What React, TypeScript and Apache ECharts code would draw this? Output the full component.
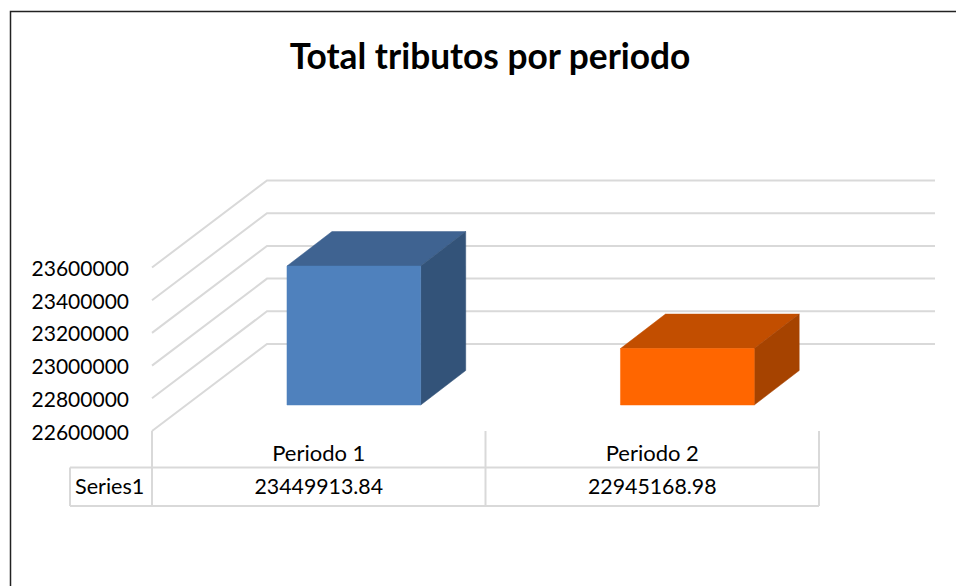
import React, { useEffect, useRef } from "react";
import * as echarts from "echarts";

const titleText = "Total tributos por periodo";
const seriesName = "Series1";
const categories = ["Periodo 1", "Periodo 2"];
const seriesValues = [23449913.84, 22945168.98];
const valueLabels = ["23449913.84", "22945168.98"];
const axisMin = 22600000;
const axisMax = 23600000;
const axisStep = 200000;
const tickValues = [22600000, 22800000, 23000000, 23200000, 23400000, 23600000];
const frontColors = ["#4f81bd", "#ff6600"];
const topColors = ["#3f6391", "#c24e00"];
const sideColors = ["#335379", "#a64300"];

const FONT = "Lato, Carlito, sans-serif";
const GRID_COLOR = "#d9d9d9";
const GRID_WIDTH = 2;
const WALL_DX = 115;
const WALL_DY = -87;
const WALL_END = 935;
const BAR_SHIFT_X = 35.1;
const BAR_SHIFT_Y = -26;
const BAR_DX = 45;
const BAR_DY = -34.5;
const BAR_RATIO = 0.401;
const TABLE_LEFT = 70;
const TABLE_MID = 467.5;
const TABLE_BOTTOM = 506;
const TEXT_MID = 486;

export default function App() {
  const ref = useRef<HTMLDivElement>(null);
  useEffect(() => {
    const chart = echarts.init(ref.current!, null, { renderer: "svg" });
    const line = (x1: number, y1: number, x2: number, y2: number) => ({
      type: "line",
      shape: { x1, y1, x2, y2 },
      style: { stroke: GRID_COLOR, lineWidth: GRID_WIDTH },
    });
    chart.setOption({
      animation: false,
      backgroundColor: "#ffffff",
      title: {
        text: titleText,
        left: 485,
        top: 33,
        textAlign: "center",
        textStyle: { fontFamily: FONT, fontSize: 35.3, fontWeight: "bold", color: "#000000" },
      },
      grid: { left: 152, top: 267.5, width: 667, height: 163.5 },
      xAxis: {
        type: "category",
        data: categories,
        axisLine: { show: false },
        axisTick: { show: false },
        axisLabel: { fontFamily: FONT, fontSize: 22, color: "#000000", margin: 10 },
      },
      yAxis: {
        type: "value",
        min: axisMin,
        max: axisMax,
        interval: axisStep,
        axisLine: { show: false },
        axisTick: { show: false },
        splitLine: { show: false },
        axisLabel: {
          fontFamily: FONT,
          fontSize: 21,
          color: "#000000",
          margin: 23,
          formatter: (v: number) => String(v),
        },
      },
      graphic: [
        {
          type: "polyline",
          shape: { points: [[10.5, 586], [10.5, 11.5], [956, 11.5]] },
          style: { stroke: "#222222", lineWidth: 1.5, fill: "none" },
        },
      ],
      series: [
        {
          type: "custom",
          silent: true,
          data: tickValues.map((v) => [0, v]),
          encode: { x: 0, y: 1 },
          renderItem: (params: any, api: any) => {
            const y = api.coord([0, api.value(1)])[1];
            const x0 = params.coordSys.x;
            return {
              type: "polyline",
              shape: { points: [[x0, y], [x0 + WALL_DX, y + WALL_DY], [WALL_END, y + WALL_DY]] },
              style: { stroke: GRID_COLOR, lineWidth: GRID_WIDTH, fill: "none" },
            };
          },
        },
        {
          type: "custom",
          silent: true,
          data: seriesValues.map((v, i) => [i, v]),
          encode: { x: 0, y: 1 },
          renderItem: (params: any, api: any) => {
            const i = params.dataIndex;
            const top = api.coord([i, api.value(1)]);
            const base = api.coord([i, axisMin]);
            const w = api.size([1, 0])[0] * BAR_RATIO;
            const l = top[0] + BAR_SHIFT_X - w / 2;
            const r = l + w;
            const t = top[1] + BAR_SHIFT_Y;
            const b = base[1] + BAR_SHIFT_Y;
            const poly = (points: number[][], fill: string) => ({
              type: "polygon",
              shape: { points },
              style: { fill, stroke: fill, lineWidth: 0.5 },
            });
            return {
              type: "group",
              children: [
                poly([[l, t], [l + BAR_DX, t + BAR_DY], [r + BAR_DX, t + BAR_DY], [r, t]], topColors[i]),
                poly([[r, t], [r + BAR_DX, t + BAR_DY], [r + BAR_DX, b + BAR_DY], [r, b]], sideColors[i]),
                poly([[l, t], [r, t], [r, b], [l, b]], frontColors[i]),
              ],
            };
          },
        },
        {
          type: "custom",
          silent: true,
          data: valueLabels.map((v, i) => [i, seriesValues[i]]),
          encode: { x: 0, y: 1 },
          renderItem: (params: any, api: any) => {
            const i = params.dataIndex;
            const cs = params.coordSys;
            const base = cs.y + cs.height;
            const band = cs.width / categories.length;
            const cx = api.coord([i, axisMin])[0];
            const right = cs.x + band * (i + 1);
            const valueText = {
              type: "text",
              style: {
                text: valueLabels[i],
                x: cx,
                y: TEXT_MID,
                align: "center",
                verticalAlign: "middle",
                fontFamily: FONT,
                fontSize: 21.3,
                fill: "#000000",
              },
            };
            const children: any[] = [line(right, base, right, TABLE_BOTTOM), valueText];
            if (i === 0) {
              children.push(
                line(cs.x, base, cs.x, TABLE_BOTTOM),
                line(TABLE_LEFT, TABLE_MID, cs.x + cs.width, TABLE_MID),
                line(TABLE_LEFT, TABLE_BOTTOM, cs.x + cs.width, TABLE_BOTTOM),
                line(TABLE_LEFT, TABLE_MID, TABLE_LEFT, TABLE_BOTTOM),
                {
                  type: "text",
                  style: {
                    text: seriesName,
                    x: TABLE_LEFT + 5,
                    y: TEXT_MID,
                    align: "left",
                    verticalAlign: "middle",
                    fontFamily: FONT,
                    fontSize: 21.6,
                    fill: "#000000",
                  },
                }
              );
            }
            return { type: "group", children };
          },
        },
      ],
    });
    return () => chart.dispose();
  }, []);
  return <div ref={ref} style={{ position: "fixed", left: 0, top: 0, width: 956, height: 586 }} />;
}
